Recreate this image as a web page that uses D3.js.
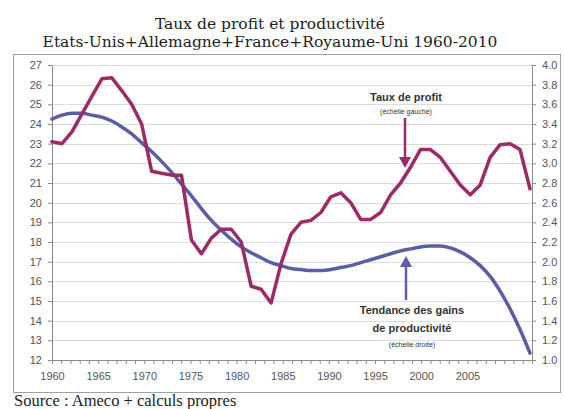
<!DOCTYPE html>
<html>
<head>
<meta charset="utf-8">
<script src="https://cdn.jsdelivr.net/npm/d3@7"></script>
<style>
  body { margin: 0; background: #fff; }
  #chart-div svg { display: block; }
</style>
</head>
<body>
<div id="chart-div"></div>
<script>
// Data
const years = d3.range(1960, 2009);
const profitRate = [
  23.1, 23.0, 23.6, 24.5, 25.4, 26.3, 26.35, 25.7, 25.0, 24.0,
  21.6, 21.5, 21.4, 21.4, 18.1, 17.4, 18.2, 18.65, 18.65, 18.0,
  15.75, 15.6, 14.9, 16.9, 18.4, 19.0, 19.1, 19.5, 20.3, 20.5,
  20.0, 19.15, 19.15, 19.5, 20.4, 21.0, 21.8, 22.7, 22.7, 22.3,
  21.6, 20.9, 20.4, 20.9, 22.3, 22.95, 23.0, 22.7, 20.7
];
const productivityTrend = [
  3.45, 3.49, 3.51, 3.51, 3.49, 3.47, 3.43, 3.37, 3.30, 3.21,
  3.12, 3.02, 2.91, 2.79, 2.67, 2.54, 2.42, 2.32, 2.23, 2.15,
  2.09, 2.04, 1.99, 1.96, 1.93, 1.92, 1.91, 1.91, 1.92, 1.94,
  1.96, 1.99, 2.02, 2.05, 2.08, 2.11, 2.13, 2.15, 2.16, 2.16,
  2.14, 2.10, 2.04, 1.96, 1.85, 1.70, 1.52, 1.31, 1.07
];
const axisYears = d3.range(1960, 2013);
const axisLabels = [1960, 1965, 1970, 1975, 1980, 1985, 1990, 1995, 2000, 2005];
const leftTicks = d3.range(12, 28);
const rightTicks = d3.range(1.0, 4.01, 0.2);

const titleLines = ["Taux de profit et productivité", "Etats-Unis+Allemagne+France+Royaume-Uni 1960-2010"];
const sourceText = "Source : Ameco + calculs propres";

function renderChart() {
  d3.select("#chart-div").selectAll("*").remove();

  const W = 564, H = 409;
  const margin = { top: 65, right: 32, bottom: 49, left: 52 },
    width = W - margin.left - margin.right,
    height = H - margin.top - margin.bottom;

  const root = d3.select("#chart-div")
    .append("svg")
    .attr("width", W)
    .attr("height", H);

  // Title
  root.append("g").selectAll("text")
    .data(titleLines)
    .join("text")
    .attr("x", 270)
    .attr("y", (d, i) => 29 + i * 18)
    .attr("text-anchor", "middle")
    .style("font-family", "'DejaVu Serif', 'Liberation Serif', serif")
    .style("font-size", "15.5px")
    .style("fill", "#222")
    .text(d => d);

  // Frame
  root.append("rect")
    .attr("x", 13.5).attr("y", 54.5)
    .attr("width", 547).attr("height", 338)
    .attr("fill", "none")
    .attr("stroke", "#a0a0a0");

  // Source
  root.append("text")
    .attr("x", 14).attr("y", 406)
    .style("font-family", "'Liberation Serif', 'DejaVu Serif', serif")
    .style("font-size", "16.5px")
    .style("fill", "#222")
    .text(sourceText);

  const svg = root.append("g")
    .attr("transform", `translate(${margin.left}, ${margin.top})`);

  // Scales
  const x = d3.scaleLinear().domain([1960, 2008]).range([0, width - 2]);
  const xAxisScale = d3.scaleLinear().domain([1960, 2012]).range([0, width]);
  const yLeft = d3.scaleLinear().domain([12, 27]).range([height, 0]);
  const yRight = d3.scaleLinear().domain([1, 4]).range([height, 0]);

  // Gridlines
  svg.append("g").selectAll("line")
    .data(leftTicks.filter(d => d > 12))
    .join("line")
    .attr("x1", 0).attr("x2", width)
    .attr("y1", d => Math.round(yLeft(d)) + 0.5)
    .attr("y2", d => Math.round(yLeft(d)) + 0.5)
    .attr("stroke", "#dcdcdc");

  const tickFont = sel => sel.selectAll("text")
    .style("font-family", "'Liberation Sans', Arial, sans-serif")
    .style("font-size", "11px")
    .style("fill", "#555");
  const axisColor = sel => {
    sel.select(".domain").attr("stroke", "#8a8a8a");
    sel.selectAll(".tick line").attr("stroke", "#8a8a8a");
  };

  // Axes
  svg.append("g")
    .call(d3.axisLeft(yLeft).tickValues(leftTicks).tickSize(4).tickSizeOuter(0).tickPadding(6))
    .call(axisColor).call(tickFont);

  svg.append("g")
    .attr("transform", `translate(${width}, 0)`)
    .call(d3.axisRight(yRight).tickValues(rightTicks).tickSize(4).tickSizeOuter(0)
      .tickPadding(6).tickFormat(d3.format(".1f")))
    .call(axisColor).call(tickFont);

  svg.append("g")
    .attr("transform", `translate(0, ${height})`)
    .call(d3.axisBottom(xAxisScale).tickValues(axisYears).tickSize(4).tickSizeOuter(0)
      .tickPadding(8).tickFormat(d => axisLabels.includes(d) ? d : ""))
    .call(axisColor).call(tickFont);

  // Lines
  const redColor = "#9c2a66", blueColor = "#5b5ea6";

  svg.append("path")
    .datum(years)
    .attr("fill", "none")
    .attr("stroke", blueColor)
    .attr("stroke-width", 3.5)
    .attr("stroke-linecap", "round")
    .attr("d", d3.line().curve(d3.curveMonotoneX)
      .x(d => x(d)).y((d, i) => yRight(productivityTrend[i])));

  svg.append("path")
    .datum(years)
    .attr("fill", "none")
    .attr("stroke", redColor)
    .attr("stroke-width", 3.5)
    .attr("stroke-linejoin", "round")
    .attr("stroke-linecap", "round")
    .attr("d", d3.line().x(d => x(d)).y((d, i) => yLeft(profitRate[i])));

  // Annotations
  const noteFont = "'Liberation Sans', Arial, sans-serif";
  const note = (tx, ty, txt, size, weight) => root.append("text")
    .attr("x", tx).attr("y", ty)
    .attr("text-anchor", "middle")
    .style("font-family", noteFont)
    .style("font-size", size)
    .style("font-weight", weight)
    .style("fill", "#333")
    .text(txt);

  note(406, 101, "Taux de profit", "11px", "bold");
  note(406, 114, "(échelle gauche)", "7px", "normal");
  note(412, 314, "Tendance des gains", "11px", "bold");
  note(412, 332, "de productivité", "11px", "bold");
  note(412, 347, "(échelle droite)", "7px", "normal");

  // Arrows
  const arrow = (ax, y0, y1, color) => {
    const dir = Math.sign(y1 - y0);
    root.append("line")
      .attr("x1", ax).attr("x2", ax)
      .attr("y1", y0).attr("y2", y1 - dir * 9)
      .attr("stroke", color).attr("stroke-width", 2.5);
    root.append("path")
      .attr("d", `M${ax - 6},${y1 - dir * 11} L${ax + 6},${y1 - dir * 11} L${ax},${y1} Z`)
      .attr("fill", color);
  };
  arrow(405, 118, 168, redColor);
  arrow(406, 300, 256, blueColor);
}

renderChart();
</script>
</body>
</html>
